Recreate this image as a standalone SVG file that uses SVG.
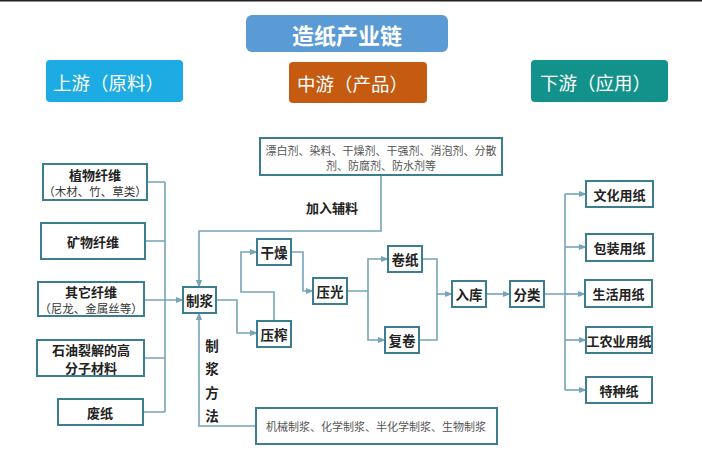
<svg xmlns="http://www.w3.org/2000/svg" width="702" height="469" viewBox="0 0 702 469">
<defs>
<style>
text{font-family:"Noto Sans CJK SC","Liberation Sans",sans-serif;}
.box{fill:#fff;stroke:#3d7d91;stroke-width:2;}
.lbl{font-size:13.5px;font-weight:bold;fill:#222;text-anchor:middle;dominant-baseline:central;}
.sub{font-size:11.5px;fill:#333;text-anchor:middle;dominant-baseline:central;}
.note{font-size:11px;fill:#555;text-anchor:middle;dominant-baseline:central;}
.hdr{font-size:18.5px;fill:#fff;dominant-baseline:central;}
.con{fill:none;stroke:#76a4b8;stroke-width:1.6;}
</style>
<marker id="ar" viewBox="0 0 10 10" refX="9" refY="5" markerWidth="5" markerHeight="5" orient="auto">
<path d="M0,1 L10,5 L0,9 z" fill="#76a4b8"/>
</marker>
</defs>
<rect x="0" y="0" width="702" height="469" fill="#ffffff"/>
<rect x="0" y="0" width="702" height="1.5" fill="#222"/>

<g id="title">
<rect x="246" y="15" width="202" height="37" rx="6" fill="#5b9bd5"/>
<text x="347" y="34" style="font-size:22px;font-weight:bold;fill:#fff;text-anchor:middle;dominant-baseline:central;">造纸产业链</text>
</g>
<g id="hdr-up">
<rect x="46" y="60" width="137" height="42" rx="4" fill="#1cabe3"/>
<text x="53" y="82" class="hdr">上游（原料）</text>
</g>
<g id="hdr-mid">
<rect x="289" y="62" width="138" height="41" rx="4" fill="#c55a11"/>
<text x="297" y="83" class="hdr">中游（产品）</text>
</g>
<g id="hdr-down">
<rect x="531" y="60" width="137" height="42" rx="4" fill="#13928b"/>
<text x="540" y="82" class="hdr">下游（应用）</text>
</g>

<g id="connectors">
<path class="con" d="M147,182 H165 M145,241 H165 M144,358 H165 M143,412 H165 M165,182 V412"/>
<path class="con" d="M144,300 H183" marker-end="url(#ar)"/>
<path class="con" d="M381,175 V231 H199 V287" marker-end="url(#ar)"/>
<path class="con" d="M256,426 H199 V313" marker-end="url(#ar)"/>
<path class="con" d="M216,300 H237 V333 H257" marker-end="url(#ar)"/>
<path class="con" d="M274,321 V292 H241 V252 H257" marker-end="url(#ar)"/>
<path class="con" d="M291,252 H303 V291 H313" marker-end="url(#ar)"/>
<path class="con" d="M347,291 H368 V259 H388" marker-end="url(#ar)"/>
<path class="con" d="M368,291 V340 H385" marker-end="url(#ar)"/>
<path class="con" d="M422,259 H437 V340 H419"/>
<path class="con" d="M437,294 H452" marker-end="url(#ar)"/>
<path class="con" d="M486,294 H510" marker-end="url(#ar)"/>
<path class="con" d="M544,294 H565 M565,194 V390"/>
<path class="con" d="M565,194 H586" marker-end="url(#ar)"/>
<path class="con" d="M565,247 H586" marker-end="url(#ar)"/>
<path class="con" d="M565,294 H585" marker-end="url(#ar)"/>
<path class="con" d="M565,340 H586" marker-end="url(#ar)"/>
<path class="con" d="M565,390 H586" marker-end="url(#ar)"/>
</g>

<g id="n-zhiwu">
<rect class="box" x="43" y="164" width="104" height="36"/>
<text class="lbl" x="95" y="174" style="font-size:13px">植物纤维</text>
<text class="sub" x="95" y="191">（木材、竹、草类）</text>
</g>
<g id="n-kuangwu">
<rect class="box" x="41" y="223" width="104" height="36"/>
<text class="lbl" x="93" y="241" style="font-size:13px">矿物纤维</text>
</g>
<g id="n-qita">
<rect class="box" x="38" y="282" width="106" height="34"/>
<text class="lbl" x="91" y="291.5" style="font-size:13px">其它纤维</text>
<text class="sub" x="91" y="308">（尼龙、金属丝等）</text>
</g>
<g id="n-shiyou">
<rect class="box" x="37" y="340" width="107" height="36"/>
<text class="lbl" x="91" y="349.5" style="font-size:13px">石油裂解的高</text>
<text class="lbl" x="91" y="367.5" style="font-size:13px">分子材料</text>
</g>
<g id="n-feizhi">
<rect class="box" x="58" y="399" width="85" height="26"/>
<text class="lbl" x="100" y="412" style="font-size:13px">废纸</text>
</g>

<g id="n-additive">
<rect class="box" x="260" y="138" width="242" height="37"/>
<text class="note" x="381" y="150">漂白剂、染料、干燥剂、干强剂、消泡剂、分散</text>
<text class="note" x="381" y="165">剂、防腐剂、防水剂等</text>
</g>
<g id="t-jiaru">
<text class="lbl" x="332" y="207" style="font-size:13px">加入辅料</text>
</g>

<g id="n-zhijiang">
<rect class="box" x="183" y="287" width="33" height="26"/>
<text class="lbl" x="199.5" y="300">制浆</text>
</g>
<g id="t-method">
<text class="lbl" x="212" y="345">制</text>
<text class="lbl" x="212" y="368">浆</text>
<text class="lbl" x="212" y="392">方</text>
<text class="lbl" x="212" y="415">法</text>
</g>
<g id="n-method">
<rect class="box" x="256" y="408" width="241" height="36"/>
<text class="note" x="376" y="426">机械制浆、化学制浆、半化学制浆、生物制浆</text>
</g>

<g id="n-ganzao">
<rect class="box" x="257" y="239" width="34" height="26"/>
<text class="lbl" x="274" y="252">干燥</text>
</g>
<g id="n-yazha">
<rect class="box" x="257" y="321" width="34" height="26"/>
<text class="lbl" x="274" y="334">压榨</text>
</g>
<g id="n-yaguang">
<rect class="box" x="313" y="278" width="34" height="26"/>
<text class="lbl" x="330" y="291">压光</text>
</g>
<g id="n-juanzhi">
<rect class="box" x="388" y="246" width="34" height="26"/>
<text class="lbl" x="405" y="259">卷纸</text>
</g>
<g id="n-fujuan">
<rect class="box" x="385" y="327" width="34" height="26"/>
<text class="lbl" x="402" y="340">复卷</text>
</g>
<g id="n-ruku">
<rect class="box" x="452" y="281" width="34" height="26"/>
<text class="lbl" x="469" y="294">入库</text>
</g>
<g id="n-fenlei">
<rect class="box" x="510" y="281" width="34" height="26"/>
<text class="lbl" x="527" y="294">分类</text>
</g>

<g id="n-wenhua">
<rect class="box" x="586" y="181" width="67" height="26"/>
<text class="lbl" x="619.5" y="194" style="font-size:13px">文化用纸</text>
</g>
<g id="n-baozhuang">
<rect class="box" x="586" y="234" width="67" height="27"/>
<text class="lbl" x="619.5" y="247" style="font-size:13px">包装用纸</text>
</g>
<g id="n-shenghuo">
<rect class="box" x="585" y="280" width="67" height="27"/>
<text class="lbl" x="618.5" y="293.5" style="font-size:13px">生活用纸</text>
</g>
<g id="n-gongnong">
<rect class="box" x="586" y="327" width="66" height="26"/>
<text class="lbl" x="619" y="340" style="font-size:13px">工农业用纸</text>
</g>
<g id="n-tezhong">
<rect class="box" x="586" y="377" width="66" height="26"/>
<text class="lbl" x="619" y="390" style="font-size:13px">特种纸</text>
</g>
</svg>
